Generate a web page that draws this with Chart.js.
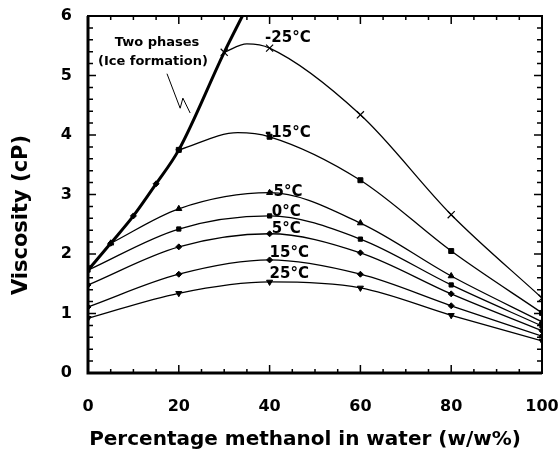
<!DOCTYPE html>
<html lang="en">
<head>
  <meta charset="UTF-8" />
  <title>Viscosity of methanol-water mixtures</title>
  <style>
    body { margin: 0; background: #fff; }
    #wrap { width: 559px; height: 458px; }
  </style>
</head>
<body>
  <div id="wrap"><canvas id="grafico" width="559" height="458"></canvas></div>

  <script src="https://cdn.jsdelivr.net/npm/chart.js"></script>
  <script>
    // values (x = % methanol w/w, y = viscosity cP)
    const phaseX = [0, 5, 10, 15, 20, 30, 34];
    const phaseY = [1.73, 2.18, 2.64, 3.18, 3.75, 5.39, 6.0];

    // the -25 and -15 curves get their unmarked peak
    const m25X = [30, 35, 40, 60, 80, 100];
    const m25Y = [5.39, 5.53, 5.46, 4.34, 2.66, 1.26];
    const m15X = [20, 33, 40, 60, 80, 100];
    const m15Y = [3.75, 4.04, 3.97, 3.24, 2.05, 1.01];
    const m5X = [5, 20, 40, 60, 80, 100];
    const m5Y = [2.18, 2.76, 3.03, 2.52, 1.63, 0.86];

    const baseX = [0, 20, 40, 60, 80, 100];
    const t0Y = [1.73, 2.42, 2.64, 2.25, 1.48, 0.79];
    const p5Y = [1.48, 2.12, 2.34, 2.02, 1.33, 0.71];
    const p15Y = [1.11, 1.66, 1.90, 1.66, 1.13, 0.62];
    const p25Y = [0.92, 1.34, 1.53, 1.43, 0.97, 0.54];

    const tempLabels = ['-25°C', '-15°C', '-5°C', '0°C', '5°C', '15°C', '25°C'];
    // label anchor (left edge, middle) in data units
    const labelX = [39, 39, 39.5, 40.5, 40.5, 40, 40];
    const labelY = [5.63, 4.03, 3.04, 2.71, 2.42, 2.02, 1.66];

    const xTicks = [0, 20, 40, 60, 80, 100];
    const yTicks = [0, 1, 2, 3, 4, 5, 6];

    const pts = (xs, ys) => xs.map((x, i) => ({ x: x, y: ys[i] }));

    function serie(xs, ys, style, radius, extra) {
      return Object.assign({
        data: pts(xs, ys),
        borderColor: '#000',
        backgroundColor: '#000',
        borderWidth: 1.3,
        pointStyle: style,
        pointRadius: radius,
        pointBorderWidth: 1,
        cubicInterpolationMode: 'monotone'
      }, extra || {});
    }

    const extras = {
      id: 'extras',
      afterDraw(chart) {
        const ctx = chart.ctx;
        const xs = chart.scales.x, ys = chart.scales.y;
        const a = chart.chartArea;
        ctx.save();
        ctx.strokeStyle = '#000';
        ctx.fillStyle = '#000';

        // frame
        ctx.lineWidth = 2;
        ctx.strokeRect(a.left, a.top, a.right - a.left, a.bottom - a.top);
        ctx.lineWidth = 3;
        ctx.beginPath();
        ctx.moveTo(a.left, a.top); ctx.lineTo(a.left, a.bottom); ctx.lineTo(a.right, a.bottom);
        ctx.stroke();

        // inward ticks on all four sides
        ctx.lineWidth = 1.5;
        ctx.beginPath();
        for (let v = 0; v <= 100; v += 5) {
          const px = xs.getPixelForValue(v);
          const len = v % 20 === 0 ? 8 : 4;
          ctx.moveTo(px, a.bottom); ctx.lineTo(px, a.bottom - len);
          ctx.moveTo(px, a.top); ctx.lineTo(px, a.top + len);
        }
        for (let k = 0; k <= 30; k++) {
          const py = ys.getPixelForValue(k * 0.2);
          const len = k % 5 === 0 ? 8 : 5;
          ctx.moveTo(a.left, py); ctx.lineTo(a.left + len, py);
          ctx.moveTo(a.right, py); ctx.lineTo(a.right - len, py);
        }
        ctx.stroke();

        // tick labels
        ctx.font = 'bold 16px "DejaVu Sans"';
        ctx.textBaseline = 'middle';
        ctx.textAlign = 'center';
        xTicks.forEach(v => ctx.fillText(String(v), xs.getPixelForValue(v), 407));
        ctx.textAlign = 'right';
        yTicks.forEach(v => ctx.fillText(String(v), 72, ys.getPixelForValue(v)));

        // curve labels
        ctx.font = 'bold 15px "DejaVu Sans"';
        ctx.textAlign = 'left';
        tempLabels.forEach((t, i) => {
          ctx.fillText(t, xs.getPixelForValue(labelX[i]), ys.getPixelForValue(labelY[i]));
        });

        // two phases note and its zigzag pointer
        ctx.font = 'bold 13px "DejaVu Sans"';
        ctx.textAlign = 'center';
        ctx.fillText('Two phases', xs.getPixelForValue(15.2), ys.getPixelForValue(5.55));
        ctx.fillText('(Ice formation)', xs.getPixelForValue(14.3), ys.getPixelForValue(5.23));
        ctx.lineWidth = 1;
        ctx.beginPath();
        ctx.moveTo(xs.getPixelForValue(17.4), ys.getPixelForValue(5.03));
        ctx.lineTo(xs.getPixelForValue(20.3), ys.getPixelForValue(4.45));
        ctx.lineTo(xs.getPixelForValue(20.9), ys.getPixelForValue(4.62));
        ctx.lineTo(xs.getPixelForValue(22.5), ys.getPixelForValue(4.37));
        ctx.stroke();

        // axis titles
        ctx.font = 'bold 20px "DejaVu Sans"';
        ctx.fillText('Percentage methanol in water (w/w%)', 305, 440);
        ctx.translate(22, 215);
        ctx.rotate(-Math.PI / 2);
        ctx.font = 'bold 21px "DejaVu Sans"';
        ctx.fillText('Viscosity (cP)', 0, 0);
        ctx.restore();
      }
    };

    new Chart(document.getElementById('grafico'), {
      type: 'line',
      data: {
        datasets: [
          serie(phaseX, phaseY, 'rectRot', [0, 3, 3, 3, 3, 0, 0], { borderWidth: 3 }),
          serie(m25X, m25Y, 'crossRot', [5, 0, 5, 5, 5, 5], { pointBorderWidth: 1.2 }),
          serie(m15X, m15Y, 'rect', [3.5, 0, 3.5, 3.5, 3.5, 3.5]),
          serie(m5X, m5Y, 'triangle', 3.5),
          serie(baseX, t0Y, 'rect', 3),
          serie(baseX, p5Y, 'rectRot', 3),
          serie(baseX, p15Y, 'rectRot', 3),
          serie(baseX, p25Y, 'triangle', 3.5, { pointRotation: 180 })
        ]
      },
      options: {
        responsive: false,
        devicePixelRatio: 1,
        animation: false,
        layout: { padding: { top: 16, right: 17, left: 0, bottom: 0 } },
        plugins: { legend: { display: false }, tooltip: { enabled: false } },
        scales: {
          x: {
            type: 'linear', min: 0, max: 100,
            afterBuildTicks: s => { s.ticks = xTicks.map(v => ({ value: v })); },
            afterFit: s => { s.height = 85; s.paddingLeft = 0; s.paddingRight = 0; },
            grid: { display: false },
            border: { display: false },
            ticks: { display: false }
          },
          y: {
            type: 'linear', min: 0, max: 6,
            afterBuildTicks: s => { s.ticks = yTicks.map(v => ({ value: v })); },
            afterFit: s => { s.width = 88; s.paddingTop = 0; s.paddingBottom = 0; },
            grid: { display: false },
            border: { display: false },
            ticks: { display: false }
          }
        }
      },
      plugins: [extras]
    });
  </script>
</body>
</html>
